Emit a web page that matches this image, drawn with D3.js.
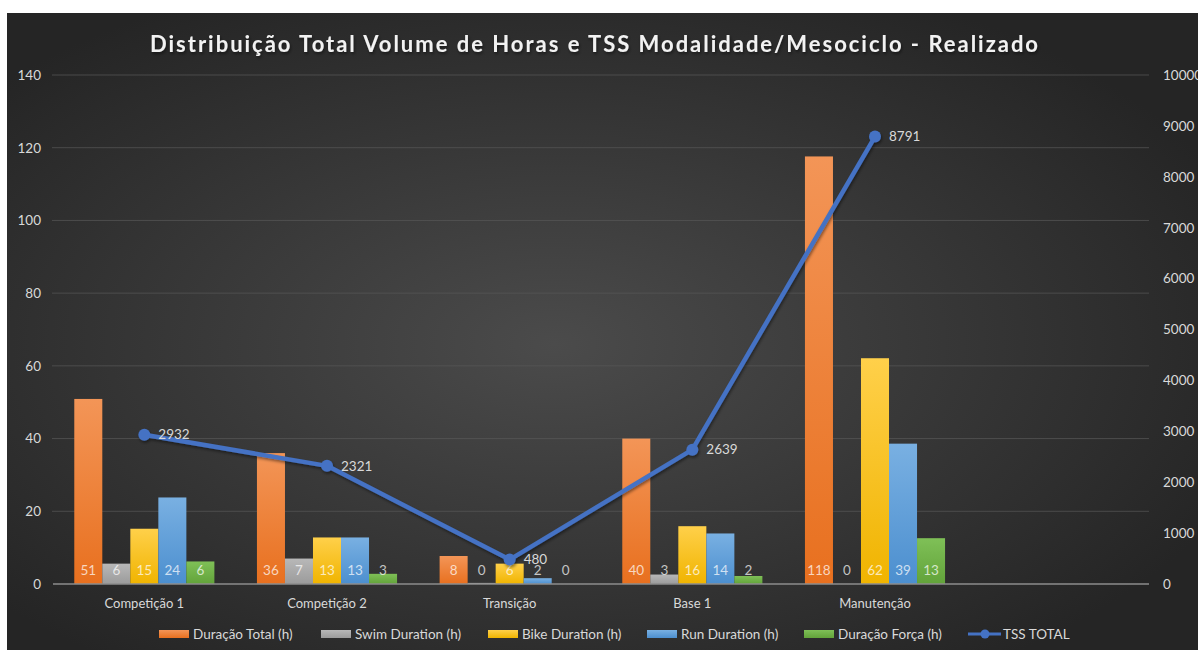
<!DOCTYPE html>
<html>
<head>
<meta charset="utf-8">
<script src="https://cdn.jsdelivr.net/npm/d3@7"></script>
<style>
  body { margin: 0; background: #fff; }
  text { font-family: Lato, "Open Sans", sans-serif; }
</style>
</head>
<body>
<script>
const width = 1198;
const height = 650;

// chart data
const categories = ["Competição 1", "Competição 2", "Transição", "Base 1", "Manutenção"];
const duracaoTotal = [50.9, 36.0, 7.7, 40.0, 117.6];
const swimDuration = [5.6, 7.0, 0.3, 2.6, 0];
const bikeDuration = [15.2, 12.8, 5.6, 15.9, 62.1];
const runDuration = [23.8, 12.8, 1.6, 13.9, 38.6];
const duracaoForca = [6.2, 2.8, 0, 2.2, 12.6];
const tssTotal = [2932, 2321, 480, 2639, 8791];

const leftTicks = [0, 20, 40, 60, 80, 100, 120, 140];
const rightTicks = [0, 1000, 2000, 3000, 4000, 5000, 6000, 7000, 8000, 9000, 10000];

const seriesNames = ["Duração Total (h)", "Swim Duration (h)", "Bike Duration (h)", "Run Duration (h)", "Duração Força (h)"];
const seriesValues = [duracaoTotal, swimDuration, bikeDuration, runDuration, duracaoForca];
const colors = [
  ["#f39557", "#e8701f"],
  ["#b8b8b8", "#9b9b9b"],
  ["#ffd04a", "#f0b400"],
  ["#79b0e2", "#4c8fcf"],
  ["#7fc057", "#62a33a"]
];

// the source sheet has one empty category at the end
const slots = categories.concat(["_blank"]);

const svg = d3.select("body").append("svg")
  .attr("width", width)
  .attr("height", height);

const defs = svg.append("defs");
const bg = defs.append("radialGradient").attr("id", "bg")
  .attr("cx", "46%").attr("cy", "52%").attr("r", "62%");
bg.append("stop").attr("offset", "0%").attr("stop-color", "#4b4b4b");
bg.append("stop").attr("offset", "100%").attr("stop-color", "#252525");

colors.forEach((c, i) => {
  const g = defs.append("linearGradient").attr("id", "bar" + i)
    .attr("x1", 0).attr("y1", 0).attr("x2", 0).attr("y2", 1);
  g.append("stop").attr("offset", "0%").attr("stop-color", c[0]);
  g.append("stop").attr("offset", "100%").attr("stop-color", c[1]);
});

const shadow = defs.append("filter").attr("id", "shadow")
  .attr("x", "-10%").attr("y", "-10%").attr("width", "120%").attr("height", "130%");
shadow.append("feDropShadow").attr("dx", 1).attr("dy", 2).attr("stdDeviation", 1.5)
  .attr("flood-color", "#000").attr("flood-opacity", 0.45);

svg.append("rect")
  .attr("x", 7).attr("y", 13)
  .attr("width", width - 7).attr("height", height - 13)
  .attr("fill", "url(#bg)");

const plotLeft = 53, plotRight = 1149, plotTop = 75, plotBottom = 584;

const x = d3.scaleBand().domain(slots).range([plotLeft, plotRight])
  .paddingInner(0.233).paddingOuter(0.1165);
const x1 = d3.scaleBand().domain(d3.range(seriesNames.length)).range([0, x.bandwidth()]);
const y = d3.scaleLinear().domain([0, 140]).range([plotBottom, plotTop]);
const y2 = d3.scaleLinear().domain([0, 10000]).range([plotBottom, plotTop]);

// title
svg.append("text")
  .attr("x", 594).attr("y", 52)
  .attr("text-anchor", "middle")
  .attr("textLength", 888).attr("lengthAdjust", "spacing")
  .attr("fill", "#f2f2f2")
  .attr("font-size", 22).attr("font-weight", "bold")
  .attr("filter", "url(#shadow)")
  .text("Distribuição Total Volume de Horas e TSS Modalidade/Mesociclo - Realizado");

// gridlines
svg.append("g")
  .selectAll("line")
  .data(leftTicks.filter(d => d > 0))
  .join("line")
  .attr("x1", plotLeft - 1).attr("x2", plotRight)
  .attr("y1", d => y(d)).attr("y2", d => y(d))
  .attr("stroke", "#595959").attr("stroke-width", 1).attr("stroke-opacity", 0.7);

// left axis
const leftAxis = svg.append("g")
  .attr("transform", `translate(41,0)`)
  .call(d3.axisLeft(y).tickValues(leftTicks).tickSize(0).tickPadding(0));
leftAxis.select(".domain").remove();
leftAxis.selectAll("text").attr("fill", "#d9d9d9").attr("font-size", 13.5);

// right axis
const rightAxis = svg.append("g")
  .attr("transform", `translate(1163,0)`)
  .call(d3.axisRight(y2).tickValues(rightTicks).tickFormat(d3.format("d")).tickSize(0).tickPadding(0));
rightAxis.select(".domain").remove();
rightAxis.selectAll("text").attr("fill", "#d9d9d9").attr("font-size", 13.5);

// bars
const fmt = d3.format(".0f");
const groups = svg.append("g")
  .selectAll("g")
  .data(categories)
  .join("g")
  .attr("transform", d => `translate(${x(d)},0)`);

groups.selectAll("rect")
  .data((d, ci) => seriesValues.map((s, si) => ({ si, v: s[ci] })))
  .join("rect")
  .attr("x", d => x1(d.si))
  .attr("width", x1.bandwidth())
  .attr("y", d => y(d.v))
  .attr("height", d => plotBottom - y(d.v))
  .attr("fill", d => `url(#bar${d.si})`);

groups.selectAll("text.lbl")
  .data((d, ci) => seriesValues.map((s, si) => ({ si, v: s[ci] })))
  .join("text")
  .attr("class", "lbl")
  .attr("x", d => x1(d.si) + x1.bandwidth() / 2)
  .attr("y", 575)
  .attr("text-anchor", "middle")
  .attr("font-size", 13.5)
  .attr("fill", "#fff")
  .attr("fill-opacity", 0.72)
  .text(d => fmt(d.v));

// x axis line
svg.append("line")
  .attr("x1", plotLeft).attr("x2", plotRight)
  .attr("y1", plotBottom).attr("y2", plotBottom)
  .attr("stroke", "#8c8c8c").attr("stroke-width", 1.5);

// category labels
svg.append("g")
  .selectAll("text")
  .data(categories)
  .join("text")
  .attr("x", d => x(d) + x.bandwidth() / 2)
  .attr("y", 608)
  .attr("text-anchor", "middle")
  .attr("font-size", 13)
  .attr("fill", "#d9d9d9")
  .text(d => d);

// TSS line
const cx = (d, i) => x(categories[i]) + x.bandwidth() / 2;
const line = d3.line().x(cx).y(d => y2(d));
const tssG = svg.append("g").attr("filter", "url(#shadow)");
tssG.append("path")
  .datum(tssTotal)
  .attr("d", line)
  .attr("fill", "none")
  .attr("stroke", "#4472c4")
  .attr("stroke-width", 4.5)
  .attr("stroke-linejoin", "round");
tssG.selectAll("circle")
  .data(tssTotal)
  .join("circle")
  .attr("cx", cx)
  .attr("cy", d => y2(d))
  .attr("r", 6)
  .attr("fill", "#4472c4");

svg.append("g")
  .selectAll("text")
  .data(tssTotal)
  .join("text")
  .attr("x", (d, i) => cx(d, i) + 14)
  .attr("y", d => y2(d))
  .attr("dy", "0.35em")
  .attr("font-size", 13.5)
  .attr("fill", "#d9d9d9")
  .text(d => d);

// legend
const legendItems = [
  { name: seriesNames[0], sx: 159, tx: 193, kind: 0 },
  { name: seriesNames[1], sx: 321, tx: 355, kind: 1 },
  { name: seriesNames[2], sx: 488, tx: 522, kind: 2 },
  { name: seriesNames[3], sx: 647, tx: 681, kind: 3 },
  { name: seriesNames[4], sx: 804, tx: 838, kind: 4 },
  { name: "TSS TOTAL", sx: 968, tx: 1003, kind: "line" }
];
const legend = svg.append("g");
legendItems.forEach(it => {
  if (it.kind === "line") {
    legend.append("line")
      .attr("x1", it.sx).attr("x2", it.sx + 33)
      .attr("y1", 634).attr("y2", 634)
      .attr("stroke", "#4472c4").attr("stroke-width", 3);
    legend.append("circle")
      .attr("cx", it.sx + 17).attr("cy", 634).attr("r", 4.5)
      .attr("fill", "#4472c4");
  } else {
    legend.append("rect")
      .attr("x", it.sx).attr("y", 630)
      .attr("width", 30).attr("height", 8)
      .attr("fill", `url(#bar${it.kind})`);
  }
  legend.append("text")
    .attr("x", it.tx).attr("y", 639)
    .attr("font-size", 13.5)
    .attr("fill", "#d9d9d9")
    .text(it.name);
});
</script>
</body>
</html>
